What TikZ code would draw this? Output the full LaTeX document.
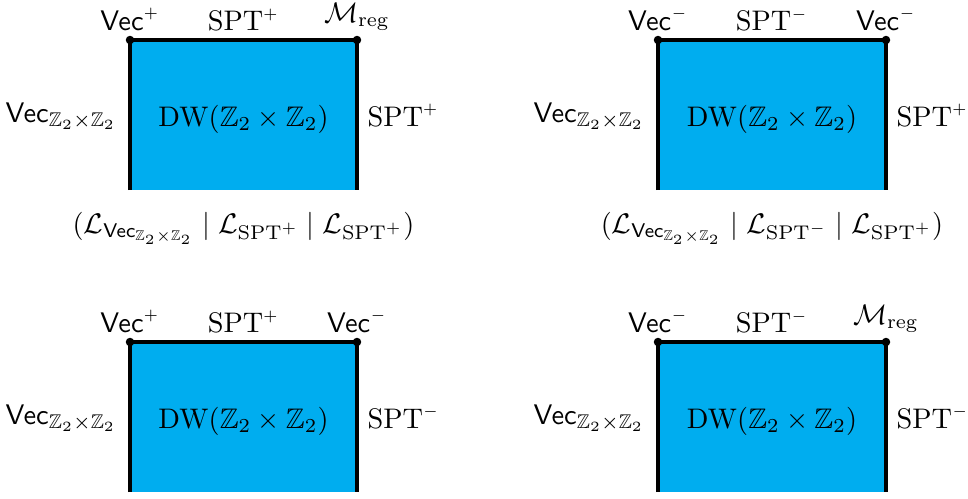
\documentclass[tikz,border=0pt]{standalone}
\usepackage{amssymb}
\usetikzlibrary{calc}
\definecolor{dwblue}{RGB}{0,173,239}
\tikzset{
  edge/.style={line width=1.2pt, line cap=butt, line join=miter},
  corner/.style={circle, fill=black, inner sep=0pt, minimum size=3pt},
  lab/.style={inner sep=0pt},
}
\newcommand{\supplus}{^{\scriptscriptstyle +}}
\newcommand{\supminus}{^{\scriptscriptstyle -}}
\newcommand{\dwpanel}[9]{%
  \coordinate (#1bl) at (#2,#5);
  \coordinate (#1tl) at (#2,#4);
  \coordinate (#1tr) at (#3,#4);
  \coordinate (#1br) at (#3,#5);
  \fill[dwblue] (#1bl) rectangle (#1tr);
  \draw[edge] (#1bl) -- (#1tl) -- (#1tr) -- (#1br);
  \node[corner] (#1dl) at (#1tl) {};
  \node[corner] (#1dr) at (#1tr) {};
  \node[lab, anchor=south] (#1ltl) at ($(#1tl)+(0,-9)$) {#6};
  \node[lab, anchor=south] (#1ltm) at ($(#1tl)!0.5!(#1tr)+(0,-9)$) {#7};
  \node[lab, anchor=south] (#1ltr) at ($(#1tr)+(0,-9)$) {#8};
  \node[lab, anchor=base east] (#1ll) at ($(#1tl)!0.5!(#1bl)+(-13,7)$) {$\mathsf{Vec}_{\mathbb{Z}_2\times\mathbb{Z}_2}$};
  \node[lab, anchor=base] (#1c) at ($(#1tl)!0.5!(#1br)+(0,11)$) {$\mathrm{DW}(\mathbb{Z}_2\times\mathbb{Z}_2)$};
  \node[lab, anchor=base west] (#1rl) at ($(#1tr)!0.5!(#1br)+(10,11)$) {#9};
}
\begin{document}
\begin{tikzpicture}[x=0.3533pt, y=-0.3533pt]
  \useasboundingbox (0,0) rectangle (968,498);
  \dwpanel{a}{130}{357}{40}{190}{$\mathsf{Vec}\supplus$}{$\mathrm{SPT}\supplus$}{$\mathcal{M}_{\mathrm{reg}}$}{$\mathrm{SPT}\supplus$}
  \dwpanel{b}{658}{886}{40}{190}{$\mathsf{Vec}\supminus$}{$\mathrm{SPT}\supminus$}{$\mathsf{Vec}\supminus$}{$\mathrm{SPT}\supplus$}
  \dwpanel{c}{130}{357}{342}{492}{$\mathsf{Vec}\supplus$}{$\mathrm{SPT}\supplus$}{$\mathsf{Vec}\supminus$}{$\mathrm{SPT}\supminus$}
  \dwpanel{d}{658}{886}{342}{492}{$\mathsf{Vec}\supminus$}{$\mathrm{SPT}\supminus$}{$\mathcal{M}_{\mathrm{reg}}$}{$\mathrm{SPT}\supminus$}
  \node[lab, anchor=base] (aform) at ($(abl)!0.5!(abr)+(0,43)$)
    {$(\mathcal{L}_{\mathsf{Vec}_{\mathbb{Z}_2\times\mathbb{Z}_2}}\mid\mathcal{L}_{\mathrm{SPT}^+}\mid\mathcal{L}_{\mathrm{SPT}^+})$};
  \node[lab, anchor=base] (bform) at ($(bbl)!0.5!(bbr)+(0,43)$)
    {$(\mathcal{L}_{\mathsf{Vec}_{\mathbb{Z}_2\times\mathbb{Z}_2}}\mid\mathcal{L}_{\mathrm{SPT}^-}\mid\mathcal{L}_{\mathrm{SPT}^+})$};
\end{tikzpicture}
\end{document}
